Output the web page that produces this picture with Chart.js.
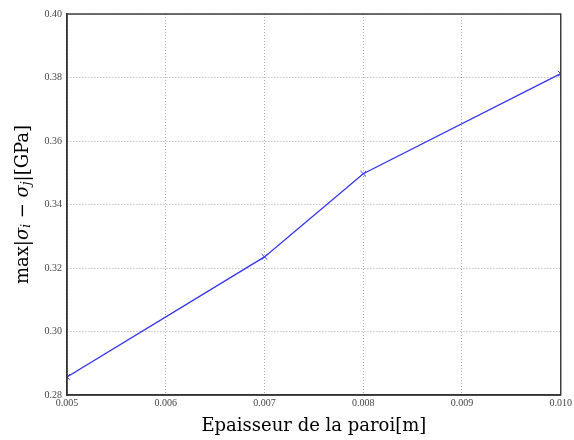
<!DOCTYPE html>
<html><head><meta charset="utf-8">
<script src="https://cdn.jsdelivr.net/npm/chart.js@4/dist/chart.umd.min.js"></script>
<style>html,body{margin:0;padding:0;background:#fff}#wrap{width:574px;height:440px}</style>
</head><body><div id="wrap"><canvas id="c" width="574" height="440"></canvas></div>
<script>
const thickness = [0.005, 0.007, 0.008, 0.010];
const maxStress = [0.2857, 0.3235, 0.3497, 0.3812];
const xTicks = [0.005, 0.006, 0.007, 0.008, 0.009, 0.010];
const yTicks = [0.28, 0.30, 0.32, 0.34, 0.36, 0.38, 0.40];
const xTitle = 'Epaisseur de la paroi[m]';

const serif = '"Liberation Serif","DejaVu Serif",serif';
const titleSerif = '"DejaVu Serif","Liberation Serif",serif';

const yTitlePlugin = {
  id: 'yTitle',
  afterDraw(chart) {
    const ctx = chart.ctx;
    const ca = chart.chartArea;
    ctx.save();
    ctx.translate(23, (ca.top + ca.bottom) / 2);
    ctx.rotate(-Math.PI / 2);
    ctx.fillStyle = '#000';
    ctx.textBaseline = 'middle';
    const parts = [
      {t: 'max|', f: '18px ' + titleSerif, dy: 0},
      {t: 'σ', f: 'italic 18px ' + titleSerif, dy: 0},
      {t: 'i', f: 'italic 12px ' + titleSerif, dy: 4},
      {t: ' − ', f: '18px ' + titleSerif, dy: 0},
      {t: 'σ', f: 'italic 18px ' + titleSerif, dy: 0},
      {t: 'j', f: 'italic 12px ' + titleSerif, dy: 4},
      {t: '|[GPa]', f: '18px ' + titleSerif, dy: 0}
    ];
    let w = 0;
    parts.forEach(p => { ctx.font = p.f; p.w = ctx.measureText(p.t).width; w += p.w; });
    let x = -w / 2;
    ctx.textAlign = 'left';
    parts.forEach(p => { ctx.font = p.f; ctx.fillText(p.t, x, p.dy); x += p.w; });
    ctx.restore();
  }
};

new Chart(document.getElementById('c'), {
  type: 'line',
  data: {
    datasets: [{
      data: thickness.map((x, i) => ({x: x, y: maxStress[i]})),
      borderColor: '#3535ee',
      borderWidth: 1.3,
      pointStyle: 'crossRot',
      pointRadius: 4,
      pointBorderColor: '#3535ee',
      pointBorderWidth: 1,
      tension: 0,
      fill: false
    }]
  },
  options: {
    responsive: false,
    animation: false,
    devicePixelRatio: 1,
    layout: {padding: {left: 0, right: 13, top: 14, bottom: 0}},
    plugins: {legend: {display: false}, tooltip: {enabled: false}},
    scales: {
      x: {
        type: 'linear', min: 0.005, max: 0.010,
        afterBuildTicks: s => { s.ticks = xTicks.map(v => ({value: v})); },
        afterFit: s => { s.height = 45; },
        ticks: {
          autoSkip: false, maxRotation: 0, padding: 2,
          color: '#444', font: {family: serif, size: 10},
          callback: v => v.toFixed(3)
        },
        grid: {color: '#aaa', lineWidth: 1, drawTicks: false},
        border: {display: true, color: '#333', width: 1.4, dash: [1, 2]},
        title: {display: true, text: xTitle, color: '#000', font: {family: titleSerif, size: 18}, padding: {top: 4, bottom: 3}}
      },
      y: {
        type: 'linear', min: 0.28, max: 0.40,
        afterBuildTicks: s => { s.ticks = yTicks.map(v => ({value: v})); },
        afterFit: s => { s.width = 67; },
        ticks: {
          autoSkip: false, padding: 5,
          color: '#444', font: {family: serif, size: 10},
          callback: v => v.toFixed(2)
        },
        grid: {color: '#aaa', lineWidth: 1, drawTicks: false},
        border: {display: true, color: '#333', width: 1.4, dash: [1, 2]}
      }
    }
  },
  plugins: [yTitlePlugin, {
    id: 'frame',
    afterDraw(chart) {
      const ctx = chart.ctx, a = chart.chartArea;
      ctx.save();
      ctx.strokeStyle = '#333';
      ctx.lineWidth = 1.4;
      ctx.strokeRect(a.left, a.top, a.right - a.left, a.bottom - a.top);
      ctx.restore();
    }
  }]
});
</script>
</body></html>
